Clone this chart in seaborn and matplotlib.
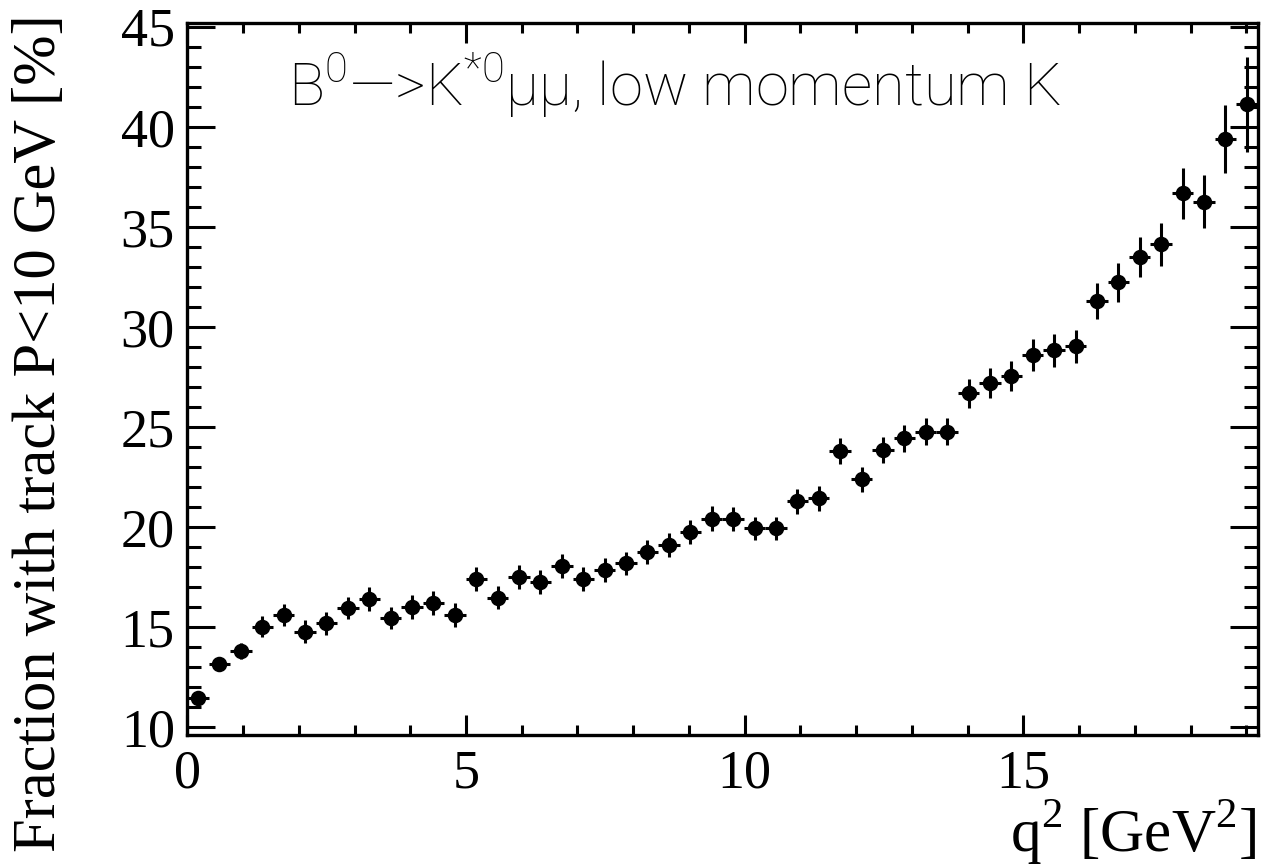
import numpy as np
import matplotlib
matplotlib.use("Agg")
import matplotlib.pyplot as plt
from matplotlib.ticker import MultipleLocator
import seaborn as sns
import pandas as pd

# ---- data ----
q2_centers = [0.192, 0.576, 0.960, 1.344, 1.728, 2.112, 2.496, 2.880, 3.264, 3.648,
              4.032, 4.416, 4.800, 5.184, 5.568, 5.952, 6.336, 6.720, 7.104, 7.488,
              7.872, 8.256, 8.640, 9.024, 9.408, 9.792, 10.176, 10.560, 10.944, 11.328,
              11.712, 12.096, 12.480, 12.864, 13.248, 13.632, 14.016, 14.400, 14.784, 15.168,
              15.552, 15.936, 16.320, 16.704, 17.088, 17.472, 17.856, 18.240, 18.624, 19.008]
q2_halfwidth = [0.192] * 50
fraction = [11.45, 13.16, 13.80, 15.02, 15.61, 14.78, 15.19, 15.97, 16.41, 15.47,
            16.01, 16.21, 15.61, 17.41, 16.47, 17.52, 17.27, 18.07, 17.41, 17.86,
            18.19, 18.77, 19.11, 19.76, 20.42, 20.39, 19.94, 19.94, 21.29, 21.44,
            23.82, 22.39, 23.84, 24.44, 24.77, 24.77, 26.68, 27.21, 27.55, 28.60,
            28.83, 29.03, 31.29, 32.23, 33.51, 34.13, 36.67, 36.25, 39.37, 41.12]
fraction_err = [0.28, 0.30, 0.40, 0.52, 0.56, 0.56, 0.56, 0.56, 0.58, 0.56,
                0.58, 0.58, 0.58, 0.62, 0.58, 0.60, 0.60, 0.60, 0.58, 0.58,
                0.58, 0.60, 0.60, 0.60, 0.62, 0.60, 0.58, 0.58, 0.62, 0.62,
                0.66, 0.62, 0.65, 0.66, 0.66, 0.66, 0.72, 0.74, 0.75, 0.78,
                0.81, 0.83, 0.89, 0.96, 1.00, 1.07, 1.26, 1.32, 1.70, 2.36]

x_major_ticks = [0, 5, 10, 15]
y_major_ticks = [10, 15, 20, 25, 30, 35, 40, 45]

title_text = r"B$^{\mathregular{0}}$—>K$^{\mathregular{*0}}$µµ, low momentum K"
xlabel_text = r"q$^{\mathregular{2}}$ [GeV$^{\mathregular{2}}$]"
ylabel_text = "Fraction with track P<10 GeV [%]"

df = pd.DataFrame({"q2": q2_centers, "frac": fraction})

sns.set_theme(style="ticks")
plt.rcParams["font.family"] = ["Liberation Serif", "DejaVu Serif"]
plt.rcParams["mathtext.fontset"] = "custom"

fig = plt.figure(figsize=(12.64, 8.65), dpi=100)
W, H = 1264, 865
left, right, top, bottom = 187.3, 1257.5, 23.3, 735.0
ax = fig.add_axes([left / W, 1 - bottom / H, (right - left) / W, (bottom - top) / H])

ax.errorbar(q2_centers, fraction, xerr=q2_halfwidth, yerr=fraction_err,
            fmt="none", ecolor="black", elinewidth=2.2, capsize=0, zorder=2)
sns.scatterplot(data=df, x="q2", y="frac", ax=ax, color="black", s=125,
                edgecolor="black", linewidth=0, zorder=3, legend=False)

ax.set_xlim(0, 19.2)
ax.set_ylim(9.62, 45.17)
ax.set_xlabel("")
ax.set_ylabel("")

ax.set_xticks(x_major_ticks)
ax.set_yticks(y_major_ticks)
ax.xaxis.set_minor_locator(MultipleLocator(1))
ax.yaxis.set_minor_locator(MultipleLocator(1))
ax.tick_params(axis="both", which="both", direction="in", top=True, right=True,
               color="black", width=2.2, labelsize=39, labelcolor="black")
ax.tick_params(axis="x", which="major", length=14.5, pad=10)
ax.tick_params(axis="x", which="minor", length=7)
ax.tick_params(axis="y", which="major", length=20, pad=9)
ax.tick_params(axis="y", which="minor", length=10)
for lab in ax.get_xticklabels() + ax.get_yticklabels():
    lab.set_fontfamily(["Liberation Serif", "DejaVu Serif"])
for sp in ax.spines.values():
    sp.set_linewidth(2.4)
    sp.set_color("black")
    sp.set_visible(True)

ax.text((288 - left) / (right - left), 1 - (106 - top) / (bottom - top),
        title_text, transform=ax.transAxes, ha="left", va="baseline",
        fontsize=43, fontweight="light", family=["Roboto", "DejaVu Sans"], color="black")

fig.text(1257 / W, 1 - 851.7 / H, xlabel_text, ha="right", va="baseline",
         fontsize=44, family=["Liberation Serif", "DejaVu Serif"], color="black")
fig.text(40 / W, 1 - 14 / H, ylabel_text, ha="center", va="top", rotation=90,
         fontsize=43.6, family=["Liberation Serif", "DejaVu Serif"], color="black")

fig.savefig("out.png", dpi=100, facecolor="white")
